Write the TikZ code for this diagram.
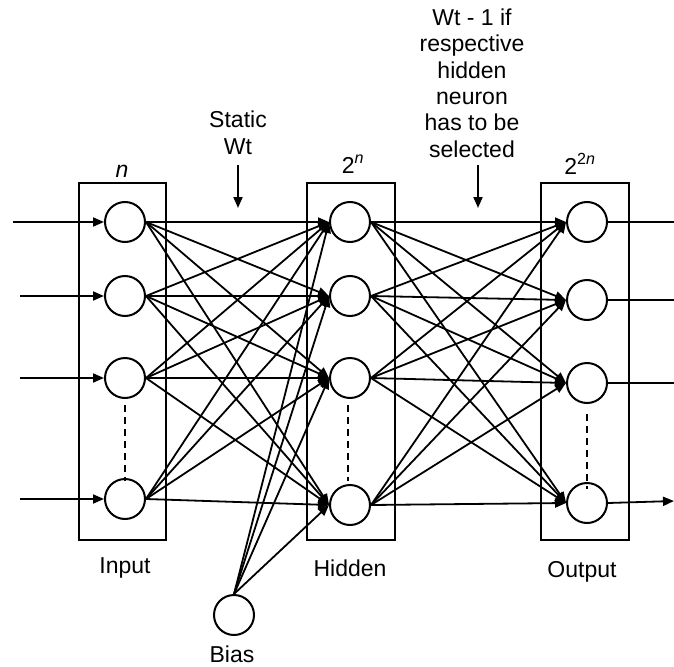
\documentclass[tikz,border=0pt]{standalone}
\usepackage{fontspec}
\setmainfont{Liberation Sans}
\usetikzlibrary{arrows.meta,calc}
\begin{document}
\begin{tikzpicture}[x=1pt,y=-1pt,
  neuron/.style={circle,draw,line width=2pt,minimum size=40pt,inner sep=0pt},
  layerbox/.style={draw,line width=2.2pt},
  link/.style={line width=1.8pt,-{Triangle[length=11pt,width=9pt]}},
  plain/.style={line width=1.8pt},
  dots/.style={line width=2.4pt,dash pattern=on 7pt off 5pt},
  lbl/.style={font=\fontsize{23}{26.3}\selectfont,inner sep=0pt,align=center,anchor=base}]
\useasboundingbox (0,0) rectangle (674,666);

% layer frames
\draw[layerbox] (79,183) rectangle (166,540);
\draw[layerbox] (307,183) rectangle (395,540);
\draw[layerbox] (541,183) rectangle (629,540);

% neurons
\foreach \k/\y in {1/222,2/296,3/378,4/499} \node[neuron] (i\k) at (125,\y) {};
\foreach \k/\y in {1/222,2/296,3/378,4/505} \node[neuron] (h\k) at (350,\y) {};
\foreach \k/\y in {1/222,2/300,3/383,4/503} \node[neuron] (o\k) at (587,\y) {};
\node[neuron] (bias) at (234,615) {};

% free ends of the input and output lines
\coordinate (f1) at (13,222);
\coordinate (f2) at (20,296);
\coordinate (f3) at (20,378);
\coordinate (f4) at (20,499);
\foreach \k/\y in {1/222,2/300,3/383,4/501} \coordinate (e\k) at (674,\y);

% inputs
\foreach \k in {1,...,4} \draw[link] (f\k) -- (i\k.west);

% full connections
\foreach \a in {1,...,4} \foreach \b in {1,...,4} {
  \draw[link] (i\a.east) -- (h\b.west);
  \draw[link] (h\a.east) -- (o\b.west);
}
\foreach \b in {1,...,4} \draw[link] (bias.north) -- (h\b.west);

% outputs
\foreach \k in {1,2,3} \draw[plain] (o\k.east) -- (e\k);
\draw[link] (o4.east) -- (e4);

% elided neurons
\draw[dots] ($(i3.south)+(0,6)$) -- ($(i4.north)+(0,3)$);
\draw[dots] ($(h3.south)+(-2,6)$) -- ($(h4.north)+(-2,-3)$);
\draw[dots] ($(o3.south)+(0,10)$) -- ($(o4.north)+(0,7)$);

% layer labels
\node[lbl] (nin) at (122,177) {\itshape n};
\node[lbl] (nhid) at (353,173) {2\textsuperscript{\itshape n}};
\node[lbl] (nout) at (580,174) {2\textsuperscript{2\itshape n}};
\node[lbl] (tin) at (125,573) {Input};
\node[lbl] (thid) at (350,576) {Hidden};
\node[lbl] (tout) at (582,577) {Output};
\node[lbl] (tbias) at (232,662) {Bias};

% weight notes
\node[lbl] (wstat) at (238,154) {Static\\Wt};
\coordinate (ws1) at (238,165);
\coordinate (ws2) at (238,208);
\draw[link] (ws1) -- (ws2);
\node[lbl] (wsel) at (472,157) {Wt - 1 if\\respective\\hidden\\neuron\\has to be\\selected};
\coordinate (wd1) at (478,165);
\coordinate (wd2) at (478,208);
\draw[link] (wd1) -- (wd2);
\end{tikzpicture}
\end{document}
